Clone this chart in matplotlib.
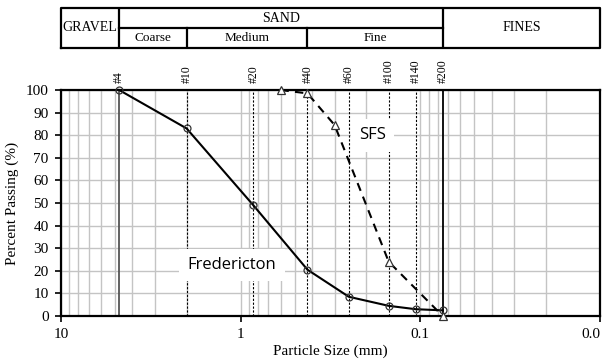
import numpy as np
import matplotlib.pyplot as plt

# sieve sizes (mm) and names
sieve_names = ['#4', '#10', '#20', '#40', '#60', '#100', '#140', '#200']
sieve_mm = [4.75, 2.0, 0.85, 0.425, 0.25, 0.15, 0.106, 0.075]

# gradation curves
fred_size = [4.75, 2.0, 0.85, 0.425, 0.25, 0.15, 0.106, 0.075]
fred_pass = [100, 83, 49, 20.5, 8.5, 4.5, 3.0, 2.5]
sfs_size = [0.6, 0.425, 0.3, 0.15, 0.075]
sfs_pass = [100, 98.5, 84.5, 24, 0]

xtick_vals = [10, 1, 0.1, 0.01]
xtick_labels = ['10', '1', '0.1', '0.0']

serif = 'Liberation Serif'
sans = 'Open Sans'

fig = plt.figure(figsize=(6.07, 3.62), dpi=100)
ax = fig.add_axes([61 / 607, 1 - 316 / 362, 539 / 607, 226 / 362])

ax.set_xscale('log')
ax.set_xlim(10, 0.01)
ax.set_ylim(0, 100)

# grid
ax.set_xticks(xtick_vals)
ax.set_xticklabels(xtick_labels, fontfamily=serif, fontsize=11)
ax.get_xticklabels()[-1].set_horizontalalignment('right')
ax.set_yticks(np.arange(0, 101, 10))
ax.set_yticklabels([str(v) for v in range(0, 101, 10)], fontfamily=serif, fontsize=11)
ax.xaxis.set_minor_locator(plt.matplotlib.ticker.LogLocator(base=10, subs=np.arange(2, 10)))
ax.xaxis.set_minor_formatter(plt.NullFormatter())
ax.grid(True, which='both', axis='x', color='#c4c4c4', lw=1.0)
ax.grid(True, which='major', axis='y', color='#c4c4c4', lw=1.0)
ax.tick_params(axis='x', which='minor', length=0)
ax.tick_params(axis='both', which='major', length=4, width=1.2, direction='out', pad=5)
ax.set_axisbelow(True)
for s in ax.spines.values():
    s.set_linewidth(1.6)
    s.set_color('black')

# sieve lines
for name, d in zip(sieve_names, sieve_mm):
    if name == '#4':
        ax.axvline(d, color='#555555', lw=1.3, zorder=1.5)
    elif name == '#200':
        ax.axvline(d, color='black', lw=1.3, zorder=1.5)
    else:
        ax.axvline(d, color='black', lw=0.8, ls=(0, (2, 1.5)), zorder=1.5)
    ax.annotate(name, (d, 100), xytext=(0, 5), textcoords='offset points',
                rotation=90, ha='center', va='bottom', fontsize=8.5, fontfamily=serif)

ax.plot(fred_size, fred_pass, color='black', lw=1.5, marker='o', ms=5,
        mfc='none', mec='#333333', mew=0.9, zorder=3, clip_on=False)
ax.plot(sfs_size, sfs_pass, color='black', lw=1.5, ls=(0, (4, 3)), marker='^', ms=6,
        mfc='white', mec='#333333', mew=0.9, zorder=3, clip_on=False)

ax.text(1.12, 22.5, 'Fredericton', fontfamily=sans, fontsize=12, ha='center', va='center',
        bbox=dict(boxstyle='square,pad=0.5', facecolor='white', edgecolor='none'), zorder=2)
ax.text(0.185, 80, 'SFS', fontfamily=sans, fontsize=12, ha='center', va='center',
        bbox=dict(boxstyle='square,pad=0.5', facecolor='white', edgecolor='none'), zorder=2)

ax.set_xlabel('Particle Size (mm)', fontfamily=serif, fontsize=11, labelpad=2)
ax.set_ylabel('Percent Passing (%)', fontfamily=serif, fontsize=11, labelpad=5)

# classification table on top
tb = fig.add_axes([61 / 607, 1 - 48.3 / 362, 539 / 607, 40 / 362])
tb.set_xscale('log')
tb.set_xlim(10, 0.01)
tb.set_ylim(0, 2)
tb.axis('off')
lw = 1.6
tb.plot([10, 0.01, 0.01, 10, 10], [0, 0, 2, 2, 0], color='black', lw=lw, clip_on=False)
tb.plot([4.75, 0.075], [1, 1], color='black', lw=lw)
for d in [4.75, 0.075]:
    tb.plot([d, d], [0, 2], color='black', lw=lw)
for d in [2.0, 0.425]:
    tb.plot([d, d], [0, 1], color='black', lw=lw)

def gmid(a, b):
    return np.sqrt(a * b)

tfs = 10
tb.text(gmid(10, 4.75), 1.05, 'GRAVEL', ha='center', va='center', fontfamily=serif, fontsize=tfs)
tb.text(gmid(4.75, 0.075), 1.5, 'SAND', ha='center', va='center', fontfamily=serif, fontsize=tfs)
tb.text(gmid(0.075, 0.01), 1.05, 'FINES', ha='center', va='center', fontfamily=serif, fontsize=tfs)
tb.text(gmid(4.75, 2.0), 0.5, 'Coarse', ha='center', va='center', fontfamily=serif, fontsize=9.5)
tb.text(gmid(2.0, 0.425), 0.5, 'Medium', ha='center', va='center', fontfamily=serif, fontsize=9.5)
tb.text(gmid(0.425, 0.075), 0.5, 'Fine', ha='center', va='center', fontfamily=serif, fontsize=9.5)

fig.savefig('out.png', dpi=100)
